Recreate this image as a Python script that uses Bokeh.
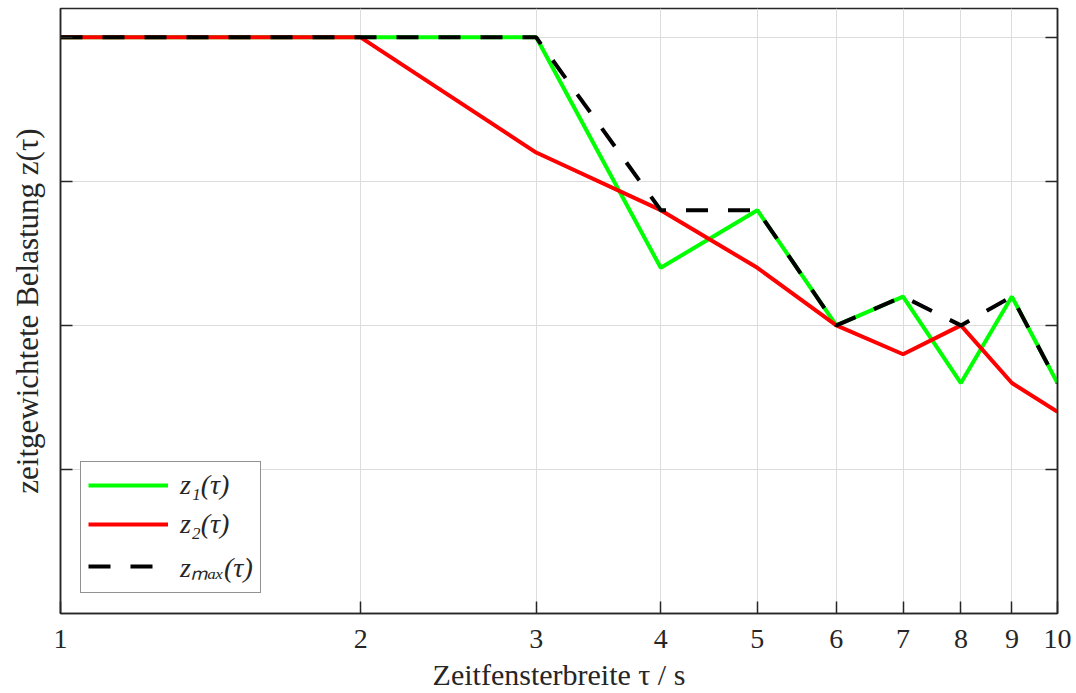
from bokeh.plotting import figure
from bokeh.models import FixedTicker, LinearAxis, Legend, LegendItem, Range1d
from bokeh.embed import file_html
from bokeh.resources import INLINE

tau = [1, 2, 3, 4, 5, 6, 7, 8, 9, 10]
z1 = [4.0, 4.0, 4.0, 2.4, 2.8, 2.0, 2.2, 1.6, 2.2, 1.6]
z2 = [4.0, 4.0, 3.2, 2.8, 2.4, 2.0, 1.8, 2.0, 1.6, 1.4]
zmax = [4.0, 4.0, 4.0, 2.8, 2.8, 2.0, 2.2, 2.0, 2.2, 1.6]
x_ticks = [1, 2, 3, 4, 5, 6, 7, 8, 9, 10]
y_ticks = [1, 2, 3, 4]

FONT = "Liberation Serif"

p = figure(width=1076, height=693, x_axis_type="log", output_backend="svg",
           toolbar_location=None, x_range=Range1d(1, 10), y_range=Range1d(0, 4.2),
           min_border_left=60, min_border_right=19, min_border_top=8, min_border_bottom=80)

p.outline_line_color = "#262626"
p.outline_line_width = 1.5
p.background_fill_color = "white"
p.border_fill_color = "white"

r1 = p.line(tau, z1, line_color="#00ff00", line_width=4)
r2 = p.line(tau, z2, line_color="#ff0000", line_width=4)
r3 = p.line(tau, zmax, line_color="black", line_width=4, line_dash="22 20")

# x axis
xa = p.xaxis[0]
xa.ticker = FixedTicker(ticks=x_ticks)
xa.major_label_overrides = {t: str(t) for t in x_ticks}
xa.minor_tick_line_color = None
xa.major_tick_in = 12
xa.major_tick_out = 0
xa.axis_line_color = "#262626"
xa.axis_line_width = 1.5
xa.major_tick_line_color = "#262626"
xa.major_tick_line_width = 1.5
xa.major_label_text_font = FONT
xa.major_label_text_font_size = "28px"
xa.major_label_text_color = "#262626"
xa.major_label_standoff = 16
xa.axis_label = "Zeitfensterbreite τ / s"
xa.axis_label_text_font = FONT
xa.axis_label_text_font_size = "30px"
xa.axis_label_text_font_style = "normal"
xa.axis_label_text_color = "#262626"
xa.axis_label_standoff = 7

# left y axis
ya = p.yaxis[0]
ya.ticker = FixedTicker(ticks=y_ticks)
ya.minor_tick_line_color = None
ya.major_tick_in = 12
ya.major_tick_out = 0
ya.axis_line_color = "#262626"
ya.axis_line_width = 1.5
ya.major_tick_line_color = "#262626"
ya.major_tick_line_width = 1.5
ya.major_label_text_font_size = "0px"
ya.major_label_text_color = None
ya.axis_label = "zeitgewichtete Belastung z(τ)"
ya.axis_label_text_font = FONT
ya.axis_label_text_font_size = "31px"
ya.axis_label_text_font_style = "normal"
ya.axis_label_text_color = "#262626"
ya.axis_label_standoff = 16

# right axis
ra = LinearAxis(ticker=FixedTicker(ticks=y_ticks))
ra.minor_tick_line_color = None
ra.major_tick_in = 12
ra.major_tick_out = 0
ra.axis_line_color = "#262626"
ra.axis_line_width = 1.5
ra.major_tick_line_color = "#262626"
ra.major_tick_line_width = 1.5
ra.major_label_text_font_size = "0px"
ra.major_label_text_color = None
p.add_layout(ra, "right")

p.xgrid.ticker = FixedTicker(ticks=x_ticks)
p.ygrid.ticker = FixedTicker(ticks=y_ticks)
p.xgrid.grid_line_color = "#dcdcdc"
p.ygrid.grid_line_color = "#dcdcdc"
p.xgrid.grid_line_width = 1
p.ygrid.grid_line_width = 1

legend = Legend(items=[
    LegendItem(label="z₁(τ)", renderers=[r1]),
    LegendItem(label="z₂(τ)", renderers=[r2]),
    LegendItem(label="zₘₐₓ(τ)", renderers=[r3]),
], location="bottom_left")
legend.margin = 20
legend.label_text_font = FONT
legend.label_text_font_size = "28px"
legend.label_text_font_style = "italic"
legend.label_text_color = "#262626"
legend.glyph_width = 80
legend.glyph_height = 30
legend.label_height = 30
legend.spacing = 7
legend.padding = 7
legend.border_line_color = "#262626"
legend.border_line_width = 1
legend.background_fill_alpha = 1
legend.label_standoff = 12
p.add_layout(legend)

open("out.html", "w").write(file_html(p, INLINE))
